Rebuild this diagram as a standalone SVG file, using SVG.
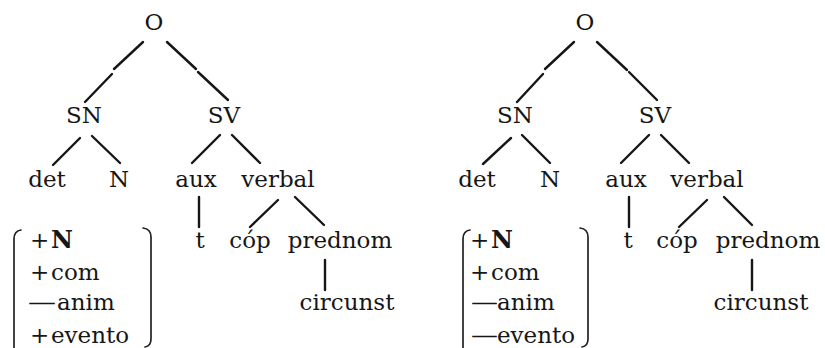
<svg xmlns="http://www.w3.org/2000/svg" width="825" height="348" viewBox="0 0 825 348">
  <style>
    text { font-family: "DejaVu Serif", "Liberation Serif", serif; font-size: 23px; fill: #161616; }
    .n { text-anchor: middle; }
    .b { font-weight: bold; font-size: 24px; }
    .edge { stroke: #161616; stroke-width: 2.4; stroke-linecap: round; fill: none; }
    .brk { stroke: #222; stroke-width: 1.7; fill: none; stroke-linecap: round; }
  </style>
  <rect width="825" height="348" fill="#ffffff"/>

  <!-- left tree -->
  <g id="tree-left">
    <g id="l-O"><text class="n" x="154" y="30">O</text></g>
    <g id="l-SN"><text class="n" x="84" y="123">SN</text></g>
    <g id="l-SV"><text class="n" x="224" y="123">SV</text></g>
    <g id="l-det"><text class="n" x="47" y="187">det</text></g>
    <g id="l-N"><text class="n" x="119" y="187">N</text></g>
    <g id="l-aux"><text class="n" x="196" y="187">aux</text></g>
    <g id="l-verbal"><text class="n" x="278" y="187">verbal</text></g>
    <g id="l-t"><text class="n" x="200" y="248">t</text></g>
    <g id="l-cop"><text class="n" x="250" y="248">cóp</text></g>
    <g id="l-prednom"><text class="n" x="340" y="248">prednom</text></g>
    <g id="l-circunst"><text class="n" x="347" y="310">circunst</text></g>
    <g id="l-features">
      <path class="brk" d="M21 230 Q14 231 14 239 L14 348"/>
      <path class="brk" d="M143 228 Q151 229 151 237 L151 339 Q151 346 145 347"/>
      <text x="30" y="248">+</text><text class="b" x="51" y="248">N</text>
      <text x="30" y="280">+</text><text x="51" y="280">com</text>
      <text x="28" y="310" textLength="28" lengthAdjust="spacingAndGlyphs">—</text>
      <text x="57" y="310">anim</text>
      <text x="30" y="343">+</text><text x="51" y="343">evento</text>
    </g>
  </g>

  <!-- right tree -->
  <g id="tree-right">
    <g id="r-O"><text class="n" x="585" y="30">O</text></g>
    <g id="r-SN"><text class="n" x="515" y="123">SN</text></g>
    <g id="r-SV"><text class="n" x="655" y="123">SV</text></g>
    <g id="r-det"><text class="n" x="477" y="187">det</text></g>
    <g id="r-N"><text class="n" x="550" y="187">N</text></g>
    <g id="r-aux"><text class="n" x="626" y="187">aux</text></g>
    <g id="r-verbal"><text class="n" x="707" y="187">verbal</text></g>
    <g id="r-t"><text class="n" x="628" y="248">t</text></g>
    <g id="r-cop"><text class="n" x="677" y="248">cóp</text></g>
    <g id="r-prednom"><text class="n" x="768" y="248">prednom</text></g>
    <g id="r-circunst"><text class="n" x="761" y="310">circunst</text></g>
    <g id="r-features">
      <path class="brk" d="M470 230 Q463 231 463 239 L463 348"/>
      <path class="brk" d="M580 228 Q588 229 588 237 L588 339 Q588 346 582 347"/>
      <text x="470" y="248">+</text><text class="b" x="491" y="248">N</text>
      <text x="470" y="280">+</text><text x="491" y="280">com</text>
      <text x="471" y="310" textLength="27" lengthAdjust="spacingAndGlyphs">—</text>
      <text x="497" y="310">anim</text>
      <text x="471" y="343" textLength="27" lengthAdjust="spacingAndGlyphs">—</text>
      <text x="497" y="343">evento</text>
    </g>
  </g>

  <!-- connectors; the upper branches are printed slightly broken -->
  <g id="connectors">
    <!-- left tree -->
    <line class="edge" x1="143" y1="42" x2="114" y2="69"/>
    <line class="edge" x1="112" y1="74" x2="85" y2="102"/>
    <line class="edge" x1="167" y1="42" x2="196" y2="69"/>
    <line class="edge" x1="198" y1="72" x2="228" y2="100"/>
    <line class="edge" x1="80" y1="138" x2="53" y2="165"/>
    <line class="edge" x1="92" y1="136" x2="120" y2="163"/>
    <line class="edge" x1="220" y1="135" x2="192" y2="163"/>
    <line class="edge" x1="232" y1="135" x2="260" y2="163"/>
    <line class="edge" x1="199" y1="197" x2="199" y2="227"/>
    <line class="edge" x1="278" y1="200" x2="250" y2="227"/>
    <line class="edge" x1="295" y1="197" x2="324" y2="225"/>
    <line class="edge" x1="325" y1="260" x2="325" y2="290"/>
    <!-- right tree -->
    <line class="edge" x1="574" y1="42" x2="545" y2="69"/>
    <line class="edge" x1="543" y1="74" x2="517" y2="102"/>
    <line class="edge" x1="597" y1="42" x2="627" y2="70"/>
    <line class="edge" x1="629" y1="72" x2="657" y2="100"/>
    <line class="edge" x1="511" y1="138" x2="483" y2="164"/>
    <line class="edge" x1="522" y1="135" x2="550" y2="163"/>
    <line class="edge" x1="649" y1="135" x2="621" y2="163"/>
    <line class="edge" x1="661" y1="135" x2="689" y2="163"/>
    <line class="edge" x1="629" y1="197" x2="629" y2="227"/>
    <line class="edge" x1="707" y1="200" x2="679" y2="227"/>
    <line class="edge" x1="724" y1="197" x2="752" y2="225"/>
    <line class="edge" x1="752" y1="260" x2="752" y2="290"/>
  </g>
</svg>
